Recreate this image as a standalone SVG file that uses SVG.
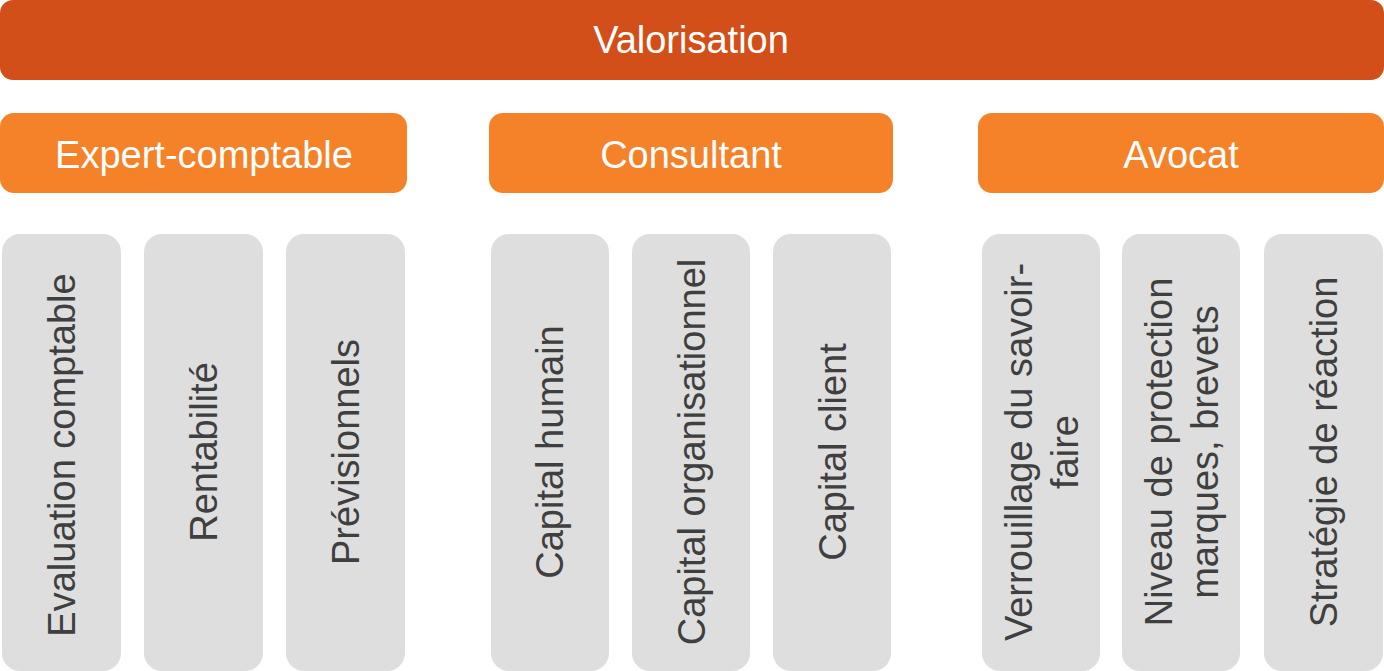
<svg xmlns="http://www.w3.org/2000/svg" width="1384" height="671" viewBox="0 0 1384 671">
<style>
.top{fill:#D34F19}
.cat{fill:#F58229}
.leaf{fill:#DEDEDE}
.tw{font-family:"Liberation Sans",Arial,sans-serif;font-size:38px;fill:#FFFFFF;text-anchor:middle}
.tg{font-family:"Liberation Sans",Arial,sans-serif;font-size:38px;fill:#3F3F3F;text-anchor:middle}
</style>
<rect width="1384" height="671" fill="#FFFFFF"/>
<g id="valorisation">
<rect class="top" x="0" y="0" width="1384" height="80" rx="13"/>
<text class="tw" x="691" y="53">Valorisation</text>
</g>
<g id="expert-comptable">
<rect class="cat" x="0" y="113" width="407" height="80" rx="14"/>
<text class="tw" x="204" y="168">Expert-comptable</text>
</g>
<g id="consultant">
<rect class="cat" x="489" y="113" width="404" height="80" rx="14"/>
<text class="tw" x="691" y="168">Consultant</text>
</g>
<g id="avocat">
<rect class="cat" x="978" y="113" width="406" height="80" rx="14"/>
<text class="tw" x="1181" y="168">Avocat</text>
</g>
<g id="evaluation">
<rect class="leaf" x="2" y="234" width="119" height="437" rx="18"/>
<text class="tg" transform="translate(75,455) rotate(-90)">Evaluation comptable</text>
</g>
<g id="rentabilite">
<rect class="leaf" x="144" y="234" width="119" height="437" rx="18"/>
<text class="tg" transform="translate(217,452) rotate(-90)">Rentabilité</text>
</g>
<g id="previsionnels">
<rect class="leaf" x="286" y="234" width="119" height="437" rx="18"/>
<text class="tg" transform="translate(359,452) rotate(-90)">Prévisionnels</text>
</g>
<g id="capital-humain">
<rect class="leaf" x="491" y="234" width="118" height="437" rx="18"/>
<text class="tg" transform="translate(563,452) rotate(-90)">Capital humain</text>
</g>
<g id="capital-organisationnel">
<rect class="leaf" x="632" y="234" width="118" height="437" rx="18"/>
<text class="tg" transform="translate(705,452) rotate(-90)">Capital organisationnel</text>
</g>
<g id="capital-client">
<rect class="leaf" x="773" y="234" width="118" height="437" rx="18"/>
<text class="tg" transform="translate(846,452) rotate(-90)">Capital client</text>
</g>
<g id="verrouillage">
<rect class="leaf" x="982" y="234" width="118" height="437" rx="18"/>
<text class="tg" transform="translate(1032,452) rotate(-90)">Verrouillage du savoir-</text>
<text class="tg" transform="translate(1078,452) rotate(-90)">faire</text>
</g>
<g id="niveau-protection">
<rect class="leaf" x="1122" y="234" width="118" height="437" rx="18"/>
<text class="tg" transform="translate(1172,452) rotate(-90)">Niveau de protection</text>
<text class="tg" transform="translate(1218,452) rotate(-90)">marques, brevets</text>
</g>
<g id="strategie-reaction">
<rect class="leaf" x="1264" y="234" width="119" height="437" rx="18"/>
<text class="tg" transform="translate(1337,452) rotate(-90)">Stratégie de réaction</text>
</g>
<g id="connectors"></g>
</svg>
